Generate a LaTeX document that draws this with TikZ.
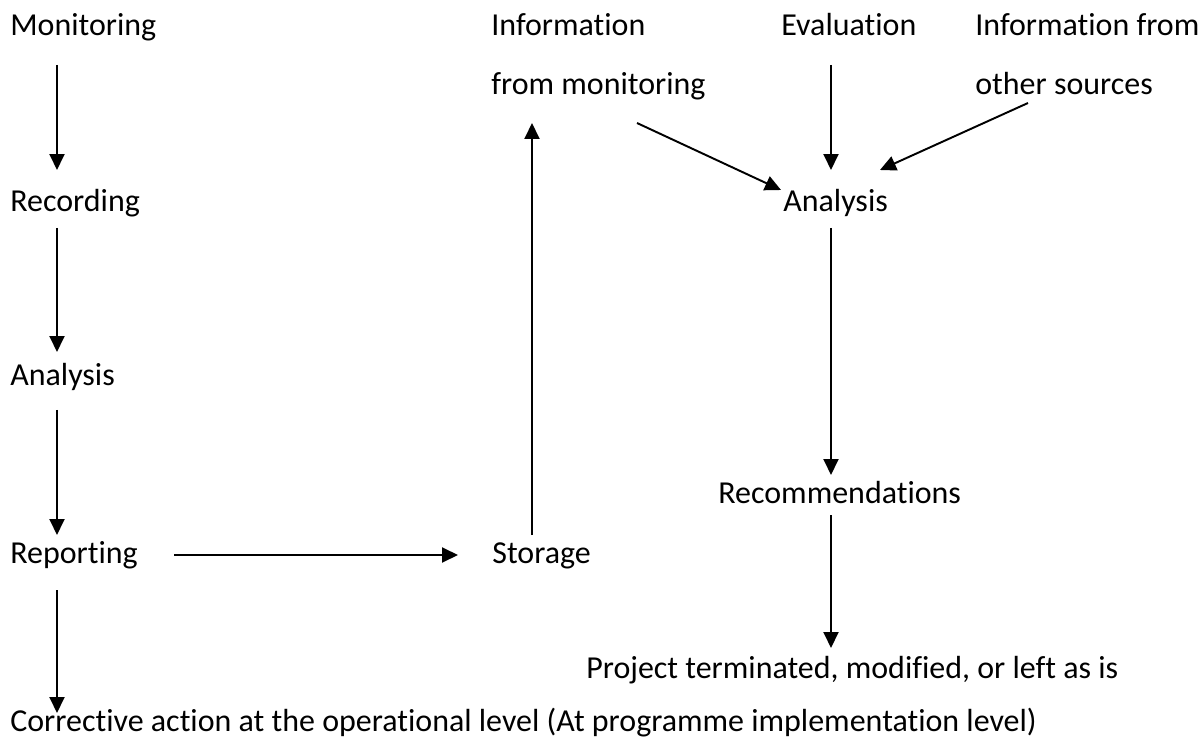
\documentclass[tikz,border=0pt]{standalone}
\usepackage{fontspec}
\setmainfont{Carlito}[Ligatures=NoCommon]
\usetikzlibrary{arrows.meta}

\begin{document}
\begin{tikzpicture}[
    x=0.02cm, y=-0.02cm,
    step label/.style={anchor=base west, inner sep=0pt, font=\fontsize{18.2}{22}\selectfont},
    flow/.style={draw=black, line width=1.1pt, -{Triangle[length=0.32cm, width=0.3cm]}}
]
\useasboundingbox (0,0) rectangle (1201,743);

% Operational chain
\node[step label] (mon) at (10,36) {Monitoring};
\node[step label] (rec) at (10,212) {Recording};
\node[step label] (anaL) at (10,386) {Analysis};
\node[step label] (rep) at (10,563) {Reporting};
\node[step label] (corr) at (10,731) {Corrective action at the operational level (At programme implementation level)};
\node[step label] (sto) at (492,563) {Storage};

% Evaluation chain
\node[step label] (infoA) at (491,36) {Information};
\node[step label] (infoB) at (491,95) {from monitoring};
\node[step label] (eval) at (781,36) {Evaluation};
\node[step label] (othA) at (975,36) {Information from};
\node[step label] (othB) at (975,95) {other sources};
\node[step label] (anaR) at (783,212) {Analysis};
\node[step label] (recom) at (718,503) {Recommendations};
\node[step label] (proj) at (586,678) {Project terminated, modified, or left as is};

% Arrows, left column
\draw[flow] ([shift={(47,29)}]mon.base west) -- ([shift={(47,-42)}]rec.base west);
\draw[flow] ([shift={(47,16)}]rec.base west) -- ([shift={(47,-34)}]anaL.base west);
\draw[flow] ([shift={(47,24)}]anaL.base west) -- ([shift={(47,-28)}]rep.base west);
\draw[flow] ([shift={(164,-8)}]rep.base west) -- ([shift={(-34,-8)}]sto.base west);
\draw[flow] ([shift={(47,27)}]rep.base west) -- ([shift={(47,-18)}]corr.base west);
\draw[flow] ([shift={(40,-28)}]sto.base west) -- ([shift={(41,28)}]infoB.base west);

% Arrows, right column
\draw[flow] ([shift={(146,28)}]infoB.base west) -- ([shift={(-2,-22)}]anaR.base west);
\draw[flow] ([shift={(50,29)}]eval.base west) -- ([shift={(48,-42)}]anaR.base west);
\draw[flow] ([shift={(53,8)}]othB.base west) -- ([shift={(97,-42)}]anaR.base west);
\draw[flow] ([shift={(48,16)}]anaR.base west) -- ([shift={(113,-28)}]recom.base west);
\draw[flow] ([shift={(113,12)}]recom.base west) -- ([shift={(245,-30)}]proj.base west);

\end{tikzpicture}
\end{document}
